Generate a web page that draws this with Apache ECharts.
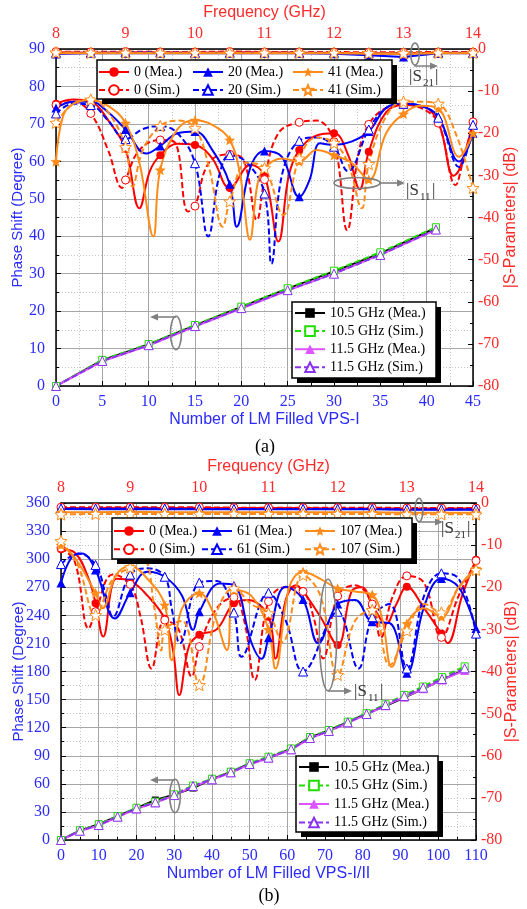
<!DOCTYPE html>
<html><head><meta charset="utf-8">
<script src="https://cdn.jsdelivr.net/npm/echarts@6/dist/echarts.min.js"></script>
<style>html,body{margin:0;padding:0;background:#fff}#c{width:527px;height:909px}</style>
</head><body><div id="c"></div>
<script>
// ================= DATA : chart (a) =================
const aLmCount = [0, 5, 10, 15, 20, 25, 30, 35, 41];
const aPh105Mea = [0, 6.9, 11.1, 16.2, 21.1, 26.0, 30.6, 35.4, 42.2];
const aPh105Sim = [0, 7.0, 11.2, 16.3, 21.2, 26.1, 30.8, 35.7, 42.4];
const aPh115Mea = [0, 6.6, 10.8, 15.9, 20.7, 25.5, 30.0, 35.0, 41.7];
const aPh115Sim = [0, 6.7, 10.9, 16.0, 20.8, 25.6, 30.0, 35.0, 41.8];

const s21Freq = [8, 8.5, 9, 9.5, 10, 10.5, 11, 11.5, 12, 12.5, 13, 13.5, 14];
const aS21_0Mea  = [-0.8, -0.9, -0.8, -0.8, -0.9, -0.8, -0.8, -0.9, -0.9, -1.0, -1.0, -0.9, -0.9];
const aS21_0Sim  = [-0.6, -0.7, -0.6, -0.7, -0.7, -0.6, -0.7, -0.7, -0.7, -0.8, -0.8, -0.7, -0.7];
const aS21_20Mea = [-1.2, -1.0, -1.0, -1.0, -1.0, -1.0, -1.0, -1.0, -1.1, -1.5, -1.9, -1.0, -1.0];
const aS21_20Sim = [-0.9, -0.9, -0.8, -0.8, -0.9, -0.9, -0.9, -0.9, -0.9, -1.0, -1.1, -0.9, -0.9];
const aS21_41Mea = [-1.0, -1.0, -1.0, -1.0, -1.0, -1.0, -1.0, -1.0, -1.0, -1.1, -1.2, -1.0, -1.0];
const aS21_41Sim = [-0.8, -0.9, -0.9, -0.9, -0.9, -0.9, -0.9, -0.9, -0.9, -1.0, -1.0, -0.9, -0.9];

const aS11_0Mea = [[8,-13],[8.25,-12],[8.5,-12.5],[8.78,-17.6],[9,-23.7],[9.2,-37.8],[9.35,-29],[9.5,-25.2],[9.75,-22.5],[10,-22.8],[10.25,-26],[10.5,-33],[10.8,-27.5],[11,-30],[11.2,-45.7],[11.35,-30],[11.5,-24],[11.75,-20.5],[12,-20],[12.2,-25],[12.37,-33.3],[12.5,-24.4],[12.75,-15],[13,-13.3],[13.25,-13.5],[13.5,-17.3],[13.72,-30.1],[13.8,-28.7],[14,-17.6]];
const aS11_0Sim = [[8,-13.3],[8.25,-12.5],[8.5,-15.3],[8.75,-24],[8.95,-33],[9,-31.1],[9.2,-24],[9.5,-21.6],[9.7,-22],[9.9,-38.6],[10,-37.3],[10.2,-27],[10.5,-25],[10.7,-26.4],[10.89,-40.6],[11,-31],[11.2,-20],[11.5,-17.4],[11.75,-17],[12,-22],[12.19,-43],[12.35,-25],[12.5,-17.9],[12.75,-14],[13,-13.3],[13.25,-14],[13.5,-17.6],[13.75,-32.3],[13.85,-27],[14,-17.3]];
const aS11_20Mea = [[8,-14],[8.25,-12.5],[8.5,-12.5],[8.75,-15],[9,-19.1],[9.3,-24.8],[9.5,-23],[9.75,-20],[10,-19.6],[10.25,-24],[10.5,-32.1],[10.6,-42.2],[10.8,-28],[11,-24.2],[11.25,-25.6],[11.5,-35.1],[11.65,-31],[11.8,-22.4],[12,-22.8],[12.25,-22],[12.5,-19.6],[12.75,-14],[13,-13],[13.25,-13.5],[13.5,-16],[13.8,-26.7],[14,-20]];
const aS11_20Sim = [[8,-15.3],[8.25,-13],[8.5,-13.3],[8.75,-17],[9,-21.4],[9.25,-19],[9.5,-18.3],[9.75,-20],[10,-27.1],[10.19,-44.5],[10.35,-30],[10.5,-25.2],[10.75,-27],[11,-34.3],[11.1,-51],[11.25,-30],[11.5,-21.8],[11.75,-21],[12,-23.2],[12.2,-29],[12.5,-19.1],[12.75,-14],[13,-13],[13.25,-13.5],[13.5,-16.3],[13.8,-28],[14,-18]];
const aS11_41Mea = [[8,-26.7],[8.1,-16],[8.25,-13],[8.5,-12.1],[8.75,-13.5],[9,-17.6],[9.2,-27],[9.4,-44.5],[9.5,-28.7],[9.75,-19],[10,-16.9],[10.25,-18],[10.5,-21.6],[10.65,-30],[10.79,-45.3],[10.9,-32],[11,-28.3],[11.25,-26],[11.5,-26.7],[11.75,-24],[12,-25.2],[12.25,-27],[12.5,-31],[12.75,-20],[13,-15.4],[13.25,-13.5],[13.5,-14.1],[13.8,-25.6],[14,-20]];
const aS11_41Sim = [[8,-17.5],[8.25,-13],[8.5,-12],[8.75,-15],[9,-23.3],[9.1,-32.7],[9.25,-24],[9.5,-18.3],[9.75,-17],[10,-18.8],[10.2,-28],[10.4,-42.2],[10.5,-36.2],[10.75,-27],[11,-28.3],[11.27,-39.4],[11.5,-26],[11.75,-21],[12,-22.3],[12.2,-27],[12.4,-37.8],[12.5,-27.3],[12.75,-16],[13,-12.5],[13.25,-12.5],[13.5,-13],[13.75,-20],[14,-33]];

// ================= DATA : chart (b) =================
const bLmCount = [0, 5, 10, 15, 20, 25, 30, 35, 40, 45, 50, 55, 61, 66, 71, 76, 81, 86, 91, 96, 101, 107];
const bPh105Mea = [0, 10, 17, 25.5, 34, 42.7, 48.5, 55.5, 65, 72.8, 81.5, 87.5, 97.5, 109.5, 117, 126, 135, 143, 152, 161.5, 171, 182];
const bPh105Sim = [0, 10.5, 16.8, 25.5, 34.5, 41, 48.8, 58.2, 65.5, 73, 82, 89, 97.8, 110, 117.5, 126.5, 135.5, 145, 155, 164, 174, 185.5];
const bPh115Mea = [0, 9.5, 15.5, 24.5, 33.2, 39.8, 47.5, 57.2, 64.3, 71.8, 80.7, 87.5, 96.4, 108.5, 116, 125.2, 134, 143.5, 152.8, 161.5, 171, 181];
const bPh115Sim = [0, 9.9, 16, 24.9, 33.8, 40.2, 48, 57.7, 64.8, 72.3, 81.2, 88, 96.9, 109, 116.5, 125.7, 134.6, 144.2, 153.8, 162.7, 172, 183.4];

const bS21_0Mea   = [-1.2, -1.2, -1.1, -1.2, -1.2, -1.2, -1.2, -1.2, -1.3, -1.3, -1.3, -1.3, -1.3];
const bS21_0Sim   = [-1.0, -1.0, -1.0, -1.0, -1.0, -1.1, -1.1, -1.1, -1.1, -1.1, -1.2, -1.2, -1.2];
const bS21_61Mea  = [-1.4, -1.5, -1.4, -1.5, -1.5, -1.5, -1.5, -1.5, -1.5, -1.5, -1.6, -1.6, -1.6];
const bS21_61Sim  = [-1.3, -1.3, -1.3, -1.3, -1.4, -1.4, -1.4, -1.4, -1.4, -1.4, -1.5, -1.5, -1.5];
const bS21_107Mea = [-2.2, -2.2, -2.1, -2.2, -2.2, -2.2, -2.2, -2.2, -2.2, -2.2, -2.3, -2.3, -2.3];
const bS21_107Sim = [-2.7, -2.6, -2.6, -2.6, -2.6, -2.6, -2.6, -2.6, -2.6, -2.6, -2.7, -2.7, -2.7];

const bS11_0Mea = [[8,-11],[8.2,-11.8],[8.4,-18],[8.5,-23.8],[8.61,-31.7],[8.8,-18],[9,-18.5],[9.25,-22],[9.5,-27.5],[9.62,-35],[9.71,-45.6],[9.85,-34],[10,-31.3],[10.25,-30],[10.5,-23.8],[10.7,-23],[11,-27],[11.1,-36.9],[11.25,-23],[11.4,-19.5],[11.5,-21],[11.75,-27],[12,-33.7],[12.2,-21],[12.35,-20],[12.5,-24.2],[12.7,-28.6],[12.85,-24],[13,-19.9],[13.25,-25],[13.5,-31],[13.59,-33.3],[13.8,-22],[14,-13.5]];
const bS11_0Sim = [[8,-10.7],[8.2,-14],[8.4,-29.8],[8.5,-25.8],[8.75,-17],[9,-19.3],[9.15,-27],[9.31,-39.3],[9.5,-27.8],[9.7,-30],[9.89,-41.2],[10,-34.1],[10.25,-25],[10.5,-22.4],[10.65,-28],[10.8,-42],[11,-23.4],[11.25,-20],[11.5,-21],[11.65,-27],[11.79,-36.9],[12,-22.1],[12.25,-19.5],[12.5,-24],[12.62,-32],[12.8,-22],[13,-17.3],[13.25,-19],[13.5,-31.9],[13.75,-22],[14,-13.7]];
const bS11_61Mea = [[8,-19],[8.15,-13],[8.3,-12],[8.5,-15.9],[8.78,-27.4],[9,-21.3],[9.25,-16.3],[9.5,-17.5],[9.75,-22],[9.91,-30.1],[10,-25.8],[10.3,-19.1],[10.5,-19.5],[10.75,-33],[10.9,-37],[11,-32],[11.25,-19.9],[11.5,-22.9],[11.72,-33.3],[12,-24],[12.25,-23],[12.5,-28.2],[12.75,-28.5],[13,-40.4],[13.25,-24.6],[13.5,-17.9],[13.75,-20],[14,-29.8]];
const bS11_61Sim = [[8,-14.5],[8.25,-12],[8.5,-14.7],[8.65,-22],[8.75,-27],[9,-17],[9.25,-15.5],[9.5,-17.5],[9.6,-25],[9.72,-33.3],[10,-18.9],[10.25,-18.5],[10.5,-26],[10.61,-36.5],[11,-21.3],[11.25,-28],[11.5,-40],[12,-25.8],[12.3,-39.3],[12.5,-27.1],[12.75,-24],[13,-39.3],[13.25,-22],[13.5,-16.7],[13.75,-18],[14,-31]];
const bS11_107Mea = [[8,-10],[8.2,-13],[8.5,-21.4],[8.6,-25],[8.8,-17],[9,-15],[9.25,-18],[9.5,-24.2],[9.6,-37.3],[9.75,-25],[10,-21.4],[10.2,-26],[10.4,-34.9],[10.5,-20.7],[10.75,-22],[11,-30],[11.1,-39.3],[11.3,-20],[11.5,-16.3],[11.75,-18],[12,-20.3],[12.25,-21],[12.5,-21.8],[12.65,-28],[12.78,-38.9],[13,-28.6],[13.25,-25],[13.5,-27],[13.75,-20],[14,-15.5]];
const bS11_107Sim = [[8,-9],[8.25,-15],[8.5,-26.6],[8.75,-18],[9,-15.3],[9.2,-13.7],[9.35,-25],[9.45,-35],[9.5,-30.1],[9.75,-28],[10,-43.2],[10.25,-26],[10.5,-20.3],[10.75,-24],[11,-26.2],[11.2,-33],[11.5,-17.1],[11.75,-22],[12,-40.8],[12.25,-28],[12.5,-25.4],[12.75,-38.5],[13,-30.3],[13.25,-24],[13.5,-26],[13.75,-20],[14,-15.9]];

// ================= STYLE =================
const SERIF = '"Liberation Serif","Times New Roman",serif';
const SANS = '"Liberation Sans",Arial,sans-serif';
const C_BLUE_TXT = '#2b2bff', C_RED_TXT = '#ff2a2a';
const RED = '#ff0000', BLUE = '#0000ff', ORANGE = '#ff8c1a', BLACK = '#000000', GREEN = '#22dd00', MAG = '#dd55ff', PURP = '#8833ee';
const STAR = 'path://M0,-10 L2.645,-3.64 L9.511,-3.09 L4.28,1.39 L5.878,8.09 L0,4.5 L-5.878,8.09 L-4.28,1.39 L-9.511,-3.09 L-2.645,-3.64 Z';
function st(color, symbol, size, dashed, hollow) { return { color, symbol, size, dashed, hollow }; }
const STY = {
  '0 (Mea.)': st(RED, 'circle', 8, false, false),
  '0 (Sim.)': st(RED, 'circle', 8, true, true),
  '20 (Mea.)': st(BLUE, 'triangle', 9, false, false),
  '20 (Sim.)': st(BLUE, 'triangle', 9, true, true),
  '41 (Mea.)': st(ORANGE, STAR, 11, false, false),
  '41 (Sim.)': st(ORANGE, STAR, 12, true, true),
  '61 (Mea.)': st(BLUE, 'triangle', 9, false, false),
  '61 (Sim.)': st(BLUE, 'triangle', 9, true, true),
  '107 (Mea.)': st(ORANGE, STAR, 11, false, false),
  '107 (Sim.)': st(ORANGE, STAR, 12, true, true),
  '10.5 GHz (Mea.)': st(BLACK, 'rect', 7, false, false),
  '10.5 GHz (Sim.)': st(GREEN, 'rect', 7, true, true),
  '11.5 GHz (Mea.)': st(MAG, 'triangle', 9, false, false),
  '11.5 GHz (Sim.)': st(PURP, 'triangle', 9, true, true)
};
function isHalf(f) { return Math.abs(f * 2 - Math.round(f * 2)) < 1e-6; }
function base(name, xi, yi, z) {
  const s = STY[name];
  return {
    name, type: 'line', xAxisIndex: xi, yAxisIndex: yi, z: z || 2,
    symbol: s.symbol, symbolSize: s.size, symbolKeepAspect: true, showAllSymbol: true,
    lineStyle: { color: s.color, width: 2, type: s.dashed ? [6, 3] : 'solid' },
    itemStyle: s.hollow ? { color: '#ffffff', borderColor: s.color, borderWidth: 1 } : { color: s.color, borderColor: s.color, borderWidth: 0 },
    emphasis: { disabled: true }, animation: false, silent: true
  };
}
function s11(name, pts, xi, yi) {
  return Object.assign(base(name, xi, yi), { smooth: 0.4, data: pts.map(p => isHalf(p[0]) ? { value: p } : { value: p, symbol: 'none' }) });
}
function s21(name, vals, xi, yi) {
  return Object.assign(base(name, xi, yi), { data: s21Freq.map((f, i) => [f, vals[i]]) });
}
function ph(name, xs, vals, xi, yi) {
  return Object.assign(base(name, xi, yi, 3), { data: xs.map((x, i) => [x, vals[i]]) });
}

const series = [
  s11('0 (Mea.)', aS11_0Mea, 1, 1), s11('0 (Sim.)', aS11_0Sim, 1, 1),
  s11('20 (Mea.)', aS11_20Mea, 1, 1), s11('20 (Sim.)', aS11_20Sim, 1, 1),
  s11('41 (Mea.)', aS11_41Mea, 1, 1), s11('41 (Sim.)', aS11_41Sim, 1, 1),
  s21('0 (Mea.)', aS21_0Mea, 1, 1), s21('0 (Sim.)', aS21_0Sim, 1, 1),
  s21('20 (Mea.)', aS21_20Mea, 1, 1), s21('20 (Sim.)', aS21_20Sim, 1, 1),
  s21('41 (Mea.)', aS21_41Mea, 1, 1), s21('41 (Sim.)', aS21_41Sim, 1, 1),
  ph('10.5 GHz (Mea.)', aLmCount, aPh105Mea, 0, 0), ph('10.5 GHz (Sim.)', aLmCount, aPh105Sim, 0, 0),
  ph('11.5 GHz (Mea.)', aLmCount, aPh115Mea, 0, 0), ph('11.5 GHz (Sim.)', aLmCount, aPh115Sim, 0, 0),

  s11('0 (Mea.)', bS11_0Mea, 3, 3), s11('0 (Sim.)', bS11_0Sim, 3, 3),
  s11('61 (Mea.)', bS11_61Mea, 3, 3), s11('61 (Sim.)', bS11_61Sim, 3, 3),
  s11('107 (Mea.)', bS11_107Mea, 3, 3), s11('107 (Sim.)', bS11_107Sim, 3, 3),
  s21('0 (Mea.)', bS21_0Mea, 3, 3), s21('0 (Sim.)', bS21_0Sim, 3, 3),
  s21('61 (Mea.)', bS21_61Mea, 3, 3), s21('61 (Sim.)', bS21_61Sim, 3, 3),
  s21('107 (Mea.)', bS21_107Mea, 3, 3), s21('107 (Sim.)', bS21_107Sim, 3, 3),
  ph('10.5 GHz (Mea.)', bLmCount, bPh105Mea, 2, 2), ph('10.5 GHz (Sim.)', bLmCount, bPh105Sim, 2, 2),
  ph('11.5 GHz (Mea.)', bLmCount, bPh115Mea, 2, 2), ph('11.5 GHz (Sim.)', bLmCount, bPh115Sim, 2, 2)
];

// ================= AXES =================
const axLine = { onZero: false, lineStyle: { color: '#000', width: 1.5 } };
function xBottom(grid, max, interval, name) {
  return {
    type: 'value', gridIndex: grid, position: 'bottom', min: 0, max, interval,
    name, nameLocation: 'middle', nameGap: 26, nameMoveOverlap: false,
    nameTextStyle: { color: C_BLUE_TXT, fontFamily: SANS, fontSize: 16 },
    axisLine: axLine, axisTick: { inside: true, length: 5, lineStyle: { color: '#000' } },
    minorTick: { show: true, splitNumber: 2, length: 3, lineStyle: { color: '#000' } },
    axisLabel: { color: C_BLUE_TXT, fontFamily: SERIF, fontSize: 16, margin: 8 },
    splitLine: { show: true, lineStyle: { color: '#a6a6a6', width: 1 } },
    minorSplitLine: { show: true, lineStyle: { color: '#c4c4c4', width: 1, type: [1, 2] } }
  };
}
function xTop(grid) {
  return {
    type: 'value', gridIndex: grid, position: 'top', min: 8, max: 14, interval: 1,
    name: 'Frequency (GHz)', nameLocation: 'middle', nameGap: 28, nameMoveOverlap: false,
    nameTextStyle: { color: C_RED_TXT, fontFamily: SANS, fontSize: 16 },
    axisLine: axLine, axisTick: { inside: true, length: 5, lineStyle: { color: '#000' } },
    minorTick: { show: true, splitNumber: 2, length: 3, lineStyle: { color: '#000' } },
    axisLabel: { color: C_RED_TXT, fontFamily: SERIF, fontSize: 16, margin: 7 },
    splitLine: { show: false }
  };
}
function yLeft(grid, max, interval, gap) {
  return {
    type: 'value', gridIndex: grid, position: 'left', min: 0, max, interval,
    name: 'Phase Shift (Degree)', nameLocation: 'middle', nameGap: gap, nameMoveOverlap: false,
    nameTextStyle: { color: C_BLUE_TXT, fontFamily: SANS, fontSize: 15 },
    axisLine: axLine, axisTick: { inside: true, length: 5, lineStyle: { color: '#000' } },
    minorTick: { show: true, splitNumber: 2, length: 3, lineStyle: { color: '#000' } },
    axisLabel: { color: C_BLUE_TXT, fontFamily: SERIF, fontSize: 16, margin: 11 },
    splitLine: { show: true, lineStyle: { color: '#a6a6a6', width: 1 } },
    minorSplitLine: { show: true, lineStyle: { color: '#c4c4c4', width: 1, type: [1, 2] } }
  };
}
function yRight(grid, gap) {
  return {
    type: 'value', gridIndex: grid, position: 'right', min: -80, max: 0, interval: 10,
    name: '|S-Parameters| (dB)', nameLocation: 'middle', nameGap: gap, nameMoveOverlap: false,
    nameTextStyle: { color: C_RED_TXT, fontFamily: SANS, fontSize: 16 },
    axisLine: axLine, axisTick: { inside: true, length: 5, lineStyle: { color: '#000' } },
    minorTick: { show: true, splitNumber: 2, length: 3, lineStyle: { color: '#000' } },
    axisLabel: { color: C_RED_TXT, fontFamily: SERIF, fontSize: 16, margin: 5 },
    splitLine: { show: false }
  };
}

// ================= LEGENDS =================
function legend(names, left, top, gap) {
  return {
    data: names, orient: 'vertical', left, top, itemWidth: 30, itemHeight: 12, itemGap: gap, padding: 0,
    selectedMode: false, z: 30,
    textStyle: { fontFamily: SERIF, fontSize: 14, color: '#000' }
  };
}
const legends = [
  legend(['0 (Mea.)', '0 (Sim.)'], 98, 65, 4),
  legend(['20 (Mea.)', '20 (Sim.)'], 192, 65, 4),
  legend(['41 (Mea.)', '41 (Sim.)'], 292, 65, 4),
  legend(['10.5 GHz (Mea.)', '10.5 GHz (Sim.)', '11.5 GHz (Mea.)', '11.5 GHz (Sim.)'], 294, 306, 4.1),
  legend(['0 (Mea.)', '0 (Sim.)'], 113, 524, 4.3),
  legend(['61 (Mea.)', '61 (Sim.)'], 201, 524, 4.3),
  legend(['107 (Mea.)', '107 (Sim.)'], 304, 524, 4.3),
  legend(['10.5 GHz (Mea.)', '10.5 GHz (Sim.)', '11.5 GHz (Mea.)', '11.5 GHz (Sim.)'], 298, 760, 4.5)
];

// ================= ANNOTATIONS =================
const GRAY = '#808080';
function box(x, y, w, h) {
  return [
    { type: 'rect', z: 20, silent: true, shape: { x: x + 5, y: y + 5, width: w, height: h }, style: { fill: '#000' } },
    { type: 'rect', z: 21, silent: true, shape: { x, y, width: w, height: h }, style: { fill: '#fff', stroke: '#000', lineWidth: 1.5 } }
  ];
}
function ellipse(cx, cy, rx, ry) {
  return { type: 'ellipse', z: 25, silent: true, shape: { cx, cy, rx, ry }, style: { fill: 'none', stroke: GRAY, lineWidth: 1.6 } };
}
function arrow(points) {
  const n = points.length, p = points[n - 1], q = points[n - 2];
  const dx = p[0] - q[0], dy = p[1] - q[1], L = Math.hypot(dx, dy), ux = dx / L, uy = dy / L;
  const hl = 8, hw = 3.5;
  const b = [p[0] - ux * hl, p[1] - uy * hl];
  return [
    { type: 'polyline', z: 25, silent: true, shape: { points: points.slice(0, n - 1).concat([b]) }, style: { stroke: GRAY, lineWidth: 1.6, fill: 'none' } },
    { type: 'polygon', z: 25, silent: true, shape: { points: [p, [b[0] - uy * hw, b[1] + ux * hw], [b[0] + uy * hw, b[1] - ux * hw]] }, style: { fill: GRAY } }
  ];
}
function sLabel(x, y, sub) {
  const f = '17px ' + SERIF, fs = '11px ' + SERIF;
  return [
    { type: 'text', z: 25, silent: true, x, y, style: { text: '|S', font: f, fill: '#333', align: 'left', verticalAlign: 'middle', textAlign: 'left', textVerticalAlign: 'middle' } },
    { type: 'text', z: 25, silent: true, x: x + 14, y: y + 6, style: { text: sub, font: fs, fill: '#333', align: 'left', verticalAlign: 'middle', textAlign: 'left', textVerticalAlign: 'middle' } },
    { type: 'text', z: 25, silent: true, x: x + 26, y, style: { text: '|', font: f, fill: '#333', align: 'left', verticalAlign: 'middle', textAlign: 'left', textVerticalAlign: 'middle' } }
  ];
}
function caption(x, y, t) {
  return { type: 'text', z: 25, silent: true, x, y, style: { text: t, font: '18px ' + SERIF, fill: '#000', align: 'center', verticalAlign: 'middle', textAlign: 'center', textVerticalAlign: 'middle' } };
}
const graphics = [].concat(
  box(97, 60, 295, 39), box(292, 302, 144, 76), box(112, 518, 300, 41), box(296, 756, 142, 76),
  [ellipse(415, 54, 4.3, 11)], arrow([[415, 65], [415, 66], [438, 66]]), sLabel(409, 77, '21'),
  [ellipse(357, 183, 23, 5.5)], arrow([[380, 183], [405, 183]]), sLabel(406, 191, '11'),
  [ellipse(176, 333, 5.5, 16.7)], arrow([[176, 317], [150, 317]]),
  [ellipse(419, 510, 4, 11.8)], arrow([[419, 521], [419, 522], [443, 522]]), sLabel(441, 529, '21'),
  [ellipse(328, 635, 8.7, 55.7)], arrow([[328, 691], [352, 691]]), sLabel(354, 692, '11'),
  [ellipse(175, 796, 5.3, 16.7)], arrow([[175, 780], [150, 780]]),
  [caption(265, 447, '(a)'), caption(269, 896, '(b)')]
);

const option = {
  animation: false,
  backgroundColor: '#ffffff',
  grid: [
    { left: 56, top: 49, width: 417, height: 337, containLabel: false, outerBoundsMode: 'none' },
    { left: 61, top: 503, width: 415, height: 337, containLabel: false, outerBoundsMode: 'none' }
  ],
  xAxis: [xBottom(0, 45, 5, 'Number of LM Filled VPS-I'), xTop(0), xBottom(1, 110, 10, 'Number of LM Filled VPS-I/II'), xTop(1)],
  yAxis: [yLeft(0, 90, 10, 31), yRight(0, 30), yLeft(1, 360, 30, 35), yRight(1, 28)],
  legend: legends,
  series,
  graphic: { elements: graphics }
};
const chart = echarts.init(document.getElementById('c'), null, { renderer: 'canvas' });
chart.setOption(option);
</script></body></html>
